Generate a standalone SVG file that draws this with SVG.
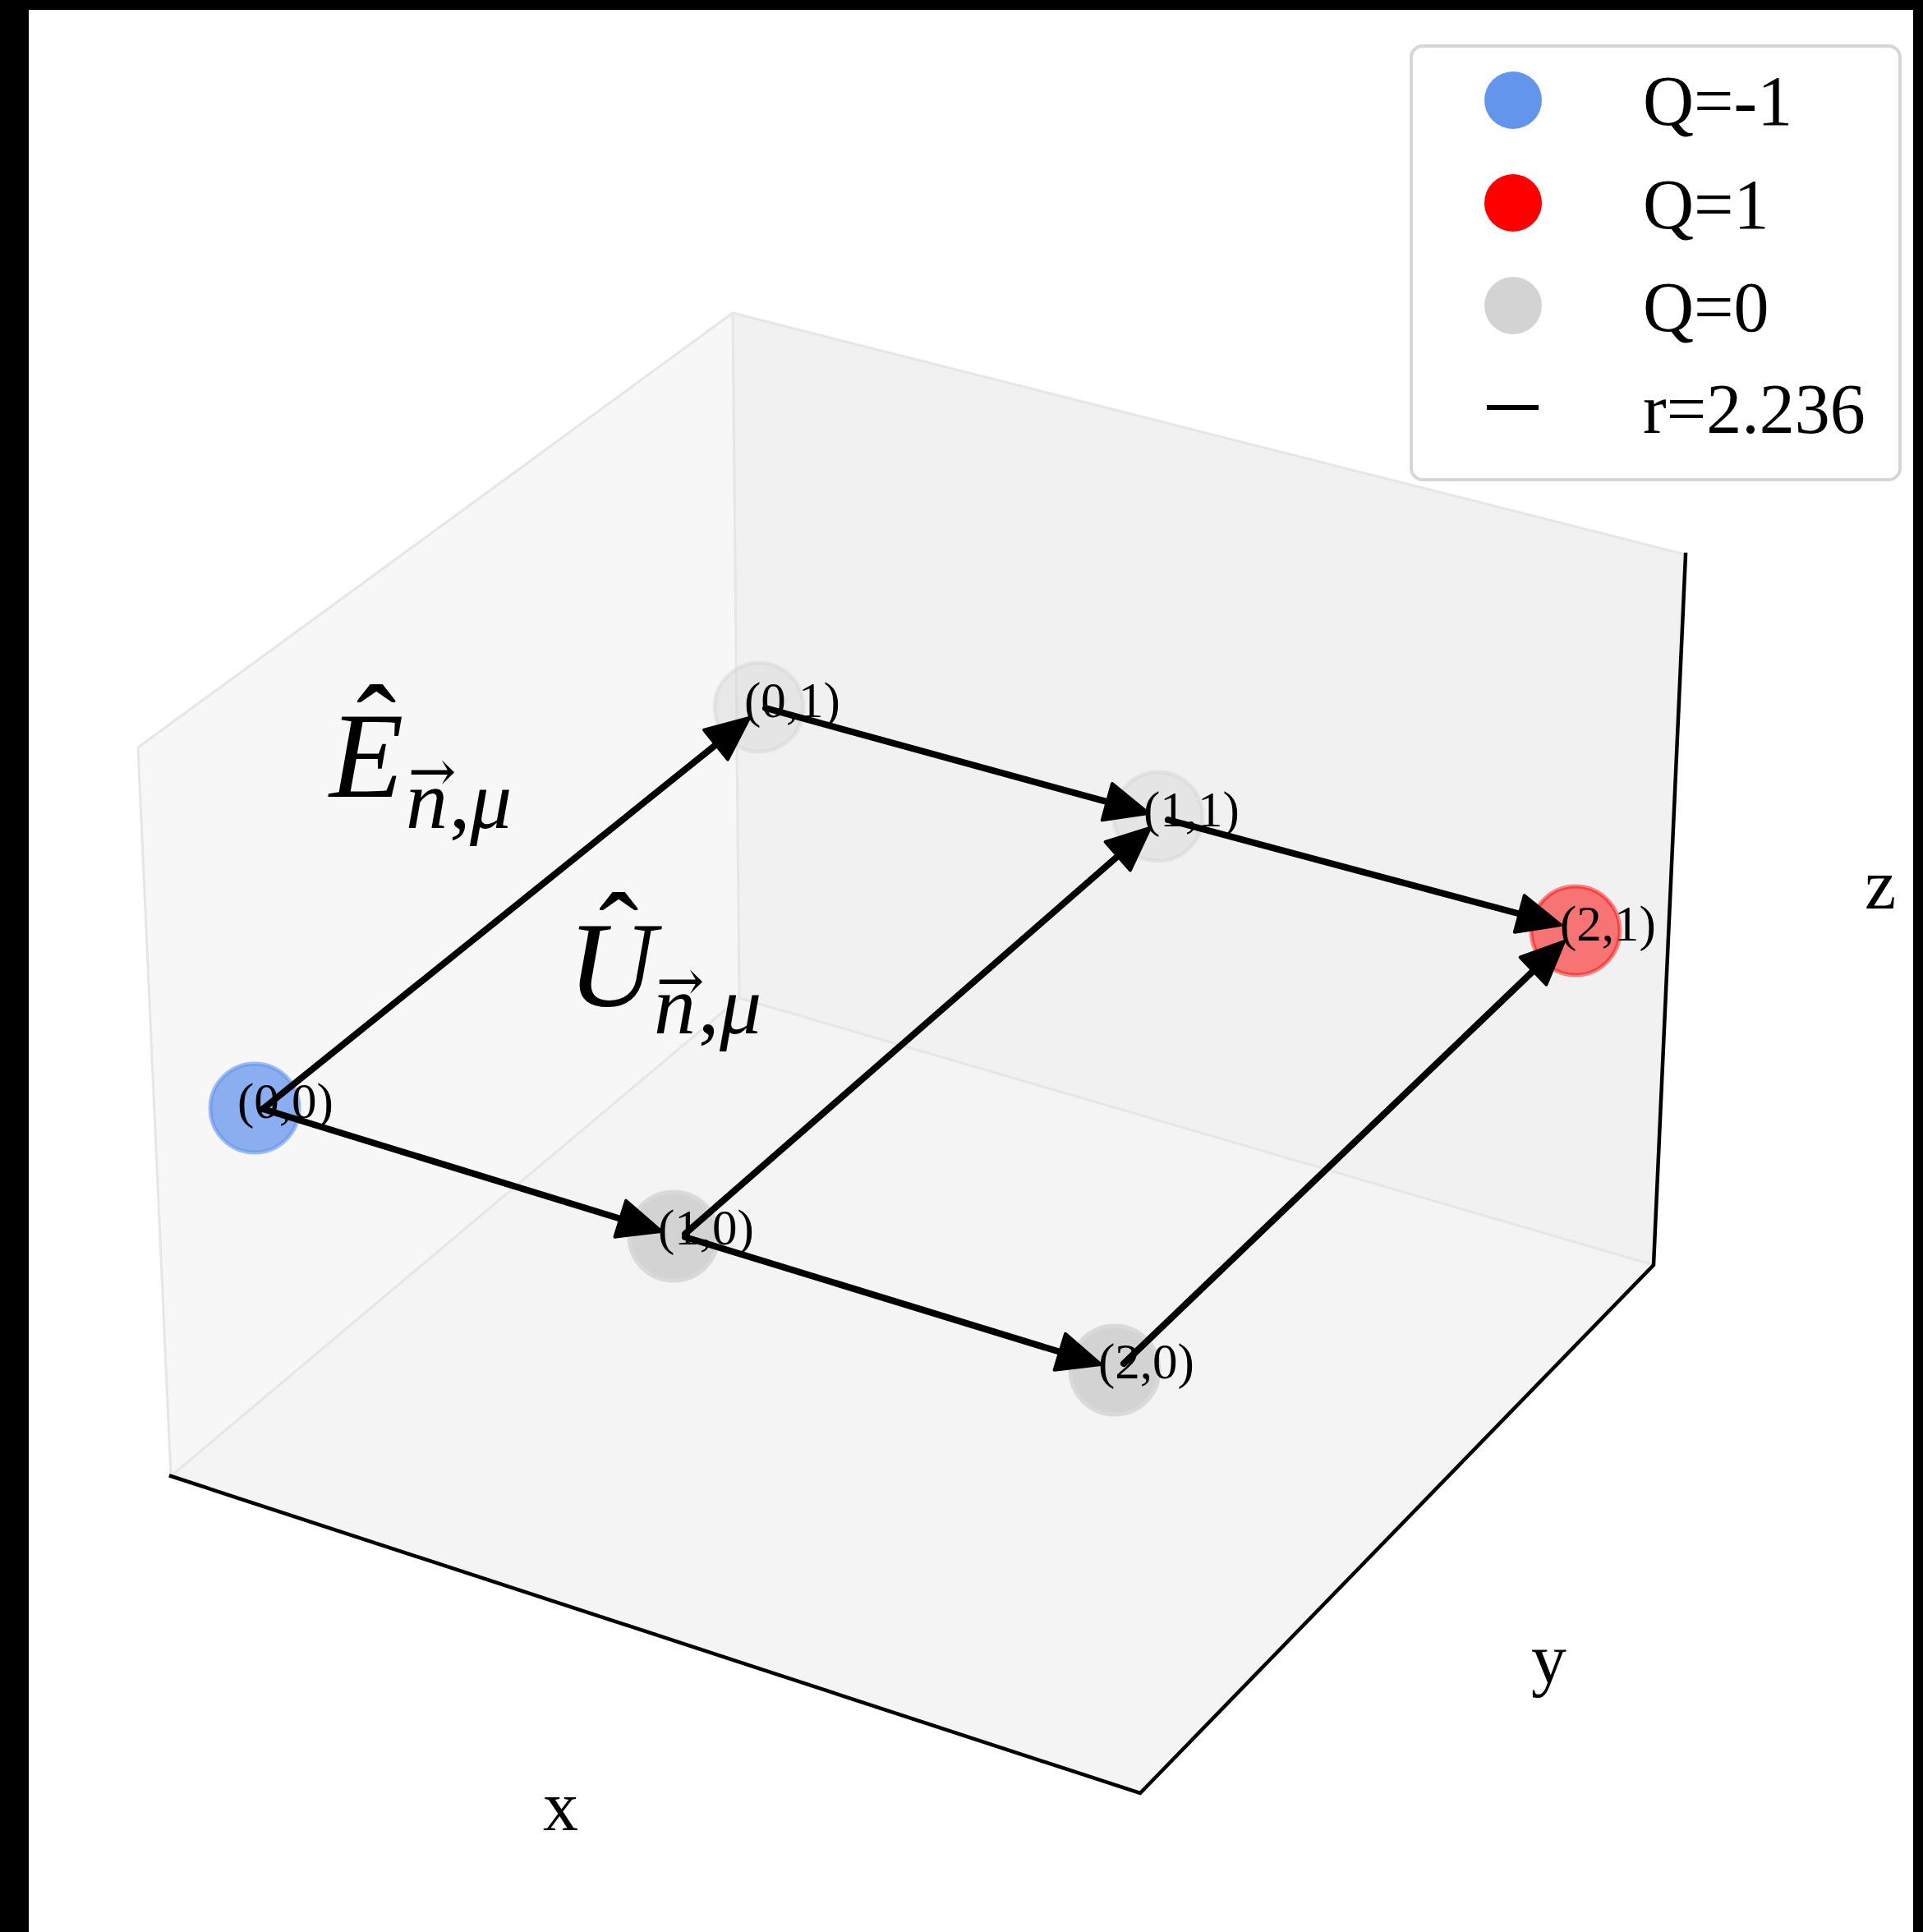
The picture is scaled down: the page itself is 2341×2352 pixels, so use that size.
<svg xmlns="http://www.w3.org/2000/svg" width="2341" height="2352" viewBox="0 0 2341 2352">
<defs>
<style>
.lbl{font-family:"Liberation Serif",serif;font-size:61px;fill:#000}
.ax{font-family:"Liberation Serif",serif;font-size:86px;fill:#000}
.leg{font-family:"Liberation Serif",serif;font-size:86px;fill:#000}
.mi{font-family:"Liberation Serif",serif;font-style:italic;fill:#000}
.mr{font-family:"Liberation Serif",serif;fill:#000}
.vec{font-family:"DejaVu Serif",serif;font-size:70px;fill:#000}
.edge{stroke:#e6e6e6;stroke-width:3;fill:none}
.axis{stroke:#000;stroke-width:4.5;fill:none;stroke-linecap:square}
.conn{stroke:#000;stroke-width:8;fill:none;stroke-linecap:round}
</style>
<marker id="ah" markerUnits="userSpaceOnUse" viewBox="-4 -29 60 58" refX="0" refY="0" markerWidth="60" markerHeight="58" orient="auto">
<path d="M0,-23 L52,0 L0,23 Z" fill="#000" stroke="#000" stroke-width="4" stroke-linejoin="round"/>
</marker>
</defs>
<rect x="0" y="0" width="2341" height="2352" fill="#000"/>
<rect x="35" y="12" width="2294" height="2340" fill="#fff"/>
<g id="panes">
<polygon points="892,381 900,1215 208,1797 168,910" fill="#f7f7f7"/>
<polygon points="892,381 2052,675 2013,1540 900,1215" fill="#f1f1f1"/>
<polygon points="900,1215 2013,1540 1388,2183 208,1797" fill="#f4f4f4"/>
<polyline class="edge" points="168,910 892,381 2052,675"/>
<line class="edge" x1="892" y1="381" x2="900" y2="1215"/>
<polyline class="edge" points="208,1797 900,1215 2013,1540"/>
<line class="edge" x1="168" y1="910" x2="208" y2="1797" stroke="#f0f0f0"/>
</g>
<g id="axes">
<polyline class="axis" points="208,1797 1388,2183 2013,1540 2052,675"/>
<text class="ax" x="661" y="2228">x</text>
<text class="ax" x="1864" y="2048">y</text>
<text class="ax" x="2270" y="1106">z</text>
</g>
<g id="node-0-0">
<circle cx="310" cy="1349" r="54" fill="#6495ED" fill-opacity="0.74" stroke="#6495ED" stroke-opacity="0.6" stroke-width="5"/>
<text class="lbl" x="289" y="1361">(0,0)</text>
</g>
<g id="node-0-1">
<circle cx="924" cy="861" r="54" fill="#d3d3d3" fill-opacity="0.42" stroke="#d3d3d3" stroke-opacity="0.4" stroke-width="5"/>
<text class="lbl" x="906" y="873">(0,1)</text>
</g>
<g id="node-1-1">
<circle cx="1410" cy="994" r="54" fill="#d3d3d3" fill-opacity="0.42" stroke="#d3d3d3" stroke-opacity="0.4" stroke-width="5"/>
<text class="lbl" x="1392" y="1006">(1,1)</text>
</g>
<g id="node-2-1">
<circle cx="1918" cy="1133" r="54" fill="#ff0000" fill-opacity="0.52" stroke="#ff0000" stroke-opacity="0.45" stroke-width="5"/>
<text class="lbl" x="1899" y="1145">(2,1)</text>
</g>
<g id="node-1-0">
<circle cx="820" cy="1505" r="54" fill="#d3d3d3" stroke="#d9d9d9" stroke-width="5"/>
<text class="lbl" x="801" y="1515">(1,0)</text>
</g>
<g id="node-2-0">
<circle cx="1357" cy="1668" r="54" fill="#d3d3d3" stroke="#d9d9d9" stroke-width="5"/>
<text class="lbl" x="1337" y="1678">(2,0)</text>
</g>
<g id="connectors">
<line class="conn" x1="320" y1="1350" x2="871.5" y2="906.6" marker-end="url(#ah)"/>
<line class="conn" x1="320" y1="1350" x2="755.3" y2="1483.7" marker-end="url(#ah)"/>
<line class="conn" x1="932" y1="862" x2="1347.9" y2="976.2" marker-end="url(#ah)"/>
<line class="conn" x1="834" y1="1502" x2="1360.8" y2="1042.2" marker-end="url(#ah)"/>
<line class="conn" x1="1422" y1="998" x2="1849.8" y2="1112.5" marker-end="url(#ah)"/>
<line class="conn" x1="834" y1="1506" x2="1290.3" y2="1645.8" marker-end="url(#ah)"/>
<line class="conn" x1="1368" y1="1660" x2="1866.5" y2="1182" marker-end="url(#ah)"/>
</g>
<g id="math-labels">
<text class="mi" x="401" y="970" font-size="148">E</text>
<text class="mr" x="458" y="935" font-size="146" text-anchor="middle">ˆ</text>
<text class="mi" x="494" y="1008" font-size="102">n</text>
<text class="vec" x="526" y="963" text-anchor="middle">→</text>
<text class="mr" x="547" y="1008" font-size="102">,</text>
<text class="mi" x="572" y="1008" font-size="102">μ</text>
<text class="mi" x="691" y="1225" font-size="148">U</text>
<text class="mr" x="753" y="1188" font-size="146" text-anchor="middle">ˆ</text>
<text class="mi" x="796" y="1258" font-size="102">n</text>
<text class="vec" x="828" y="1218" text-anchor="middle">→</text>
<text class="mr" x="850" y="1258" font-size="102">,</text>
<text class="mi" x="876" y="1258" font-size="102">μ</text>
</g>
<g id="legend">
<rect x="1718" y="56" width="595" height="528" rx="14" fill="#fff" stroke="#d6d6d6" stroke-width="4"/>
<circle cx="1842" cy="122" r="35" fill="#6495ED"/>
<circle cx="1842" cy="247" r="35" fill="#ff0000"/>
<circle cx="1842" cy="372" r="35" fill="#d3d3d3"/>
<line x1="1810" y1="496" x2="1873" y2="496" stroke="#000" stroke-width="6"/>
<text class="leg" x="2000" y="152">Q=-1</text>
<text class="leg" x="2000" y="278">Q=1</text>
<text class="leg" x="2000" y="403">Q=0</text>
<text class="leg" x="2000" y="527">r=2.236</text>
</g>
</svg>
